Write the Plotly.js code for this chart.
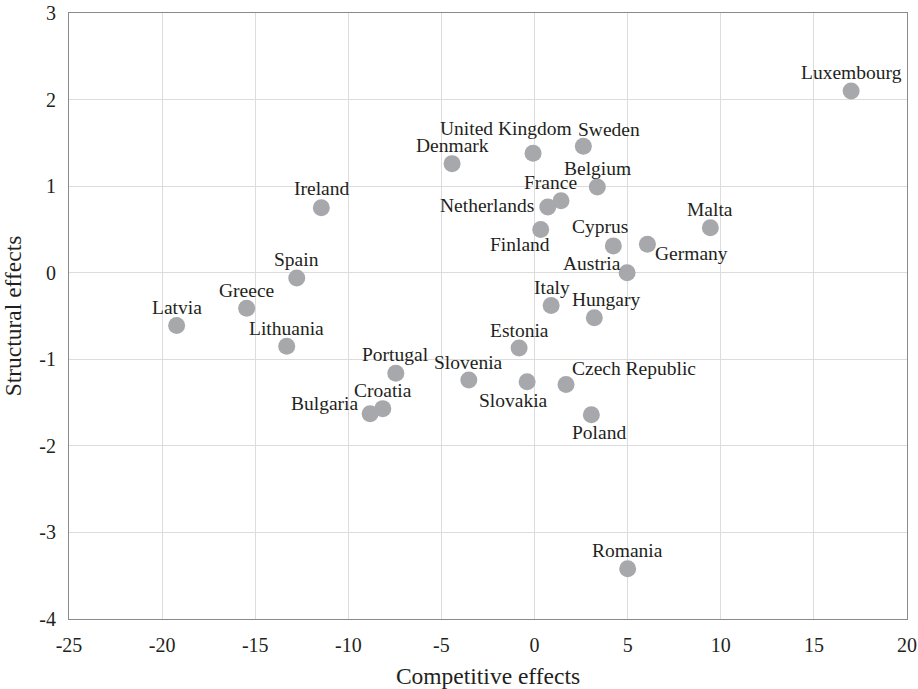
<!DOCTYPE html>
<html>
<head>
<meta charset="utf-8">
<script src="https://cdn.plot.ly/plotly-3.0.1.min.js"></script>
<style>
  html, body { margin: 0; padding: 0; background: #fff; overflow: hidden; }
  #chart { width: 918px; height: 689px; }
</style>
</head>
<body>
<div id="chart"></div>
<script>
// EU member states: competitive vs structural effects
const countries = [
  "Luxembourg", "Malta", "Germany", "Cyprus", "Austria", "Belgium", "Sweden",
  "United Kingdom", "Denmark", "France", "Netherlands", "Finland", "Italy",
  "Hungary", "Estonia", "Portugal", "Slovenia", "Slovakia", "Czech Republic",
  "Poland", "Croatia", "Bulgaria", "Romania", "Ireland", "Spain", "Greece",
  "Latvia", "Lithuania"
];
const competitive = [
  17.0, 9.44, 6.06, 4.23, 4.97, 3.37, 2.62,
  -0.08, -4.43, 1.42, 0.71, 0.33, 0.89,
  3.21, -0.83, -7.45, -3.53, -0.40, 1.69,
  3.05, -8.15, -8.83, 5.0, -11.45, -12.77, -15.46,
  -19.22, -13.31
];
const structural = [
  2.10, 0.52, 0.33, 0.31, 0.00, 0.99, 1.46,
  1.38, 1.26, 0.83, 0.76, 0.50, -0.38,
  -0.52, -0.87, -1.16, -1.24, -1.26, -1.29,
  -1.64, -1.57, -1.63, -3.42, 0.75, -0.06, -0.41,
  -0.61, -0.85
];

const xTicks = [-25, -20, -15, -10, -5, 0, 5, 10, 15, 20];
const yTicks = [-4, -3, -2, -1, 0, 1, 2, 3];

// Label placement around each marker, in pixels: [right, down]
const labelShift = {
  "Luxembourg": [0, -18], "Malta": [0, -18], "Germany": [44, 9],
  "Cyprus": [-13, -19], "Austria": [-35, -9], "Belgium": [0, -19],
  "Sweden": [26, -17], "United Kingdom": [-27, -25], "Denmark": [0, -18],
  "France": [-11, -18], "Netherlands": [-61, -1], "Finland": [-21, 15],
  "Italy": [1, -18], "Hungary": [12, -18], "Estonia": [0, -18],
  "Portugal": [0, -19], "Slovenia": [0, -18], "Slovakia": [-14, 19],
  "Czech Republic": [68, -16], "Poland": [8, 18], "Croatia": [0, -18],
  "Bulgaria": [-46, -10], "Romania": [0, -18], "Ireland": [0, -19],
  "Spain": [0, -18], "Greece": [0, -18], "Latvia": [0, -18],
  "Lithuania": [0, -18]
};

const serif = "Liberation Serif";
const ink = "#231f20";

const trace = {
  type: "scatter",
  mode: "markers",
  x: competitive,
  y: structural,
  text: countries,
  hoverinfo: "text+x+y",
  marker: { size: 17, color: "#a7a8ab", line: { width: 0 } }
};

const annotations = countries.map((name, i) => ({
  x: competitive[i],
  y: structural[i],
  xref: "x",
  yref: "y",
  text: name,
  showarrow: false,
  xanchor: "center",
  yanchor: "middle",
  xshift: labelShift[name][0],
  yshift: -labelShift[name][1],
  font: { family: serif, size: 19.5, color: ink }
}));

const axisCommon = {
  showline: true,
  mirror: true,
  linecolor: "#8a8a8a",
  linewidth: 1,
  showgrid: true,
  gridcolor: "#dcdcdc",
  gridwidth: 1,
  zeroline: false,
  ticks: "",
  tickfont: { family: serif, size: 20, color: ink }
};

const layout = {
  width: 918,
  height: 689,
  margin: { l: 69, r: 11, t: 13, b: 70 },
  paper_bgcolor: "#ffffff",
  plot_bgcolor: "#ffffff",
  showlegend: false,
  font: { family: serif, color: ink },
  xaxis: Object.assign({}, axisCommon, {
    range: [-25, 20],
    tickvals: xTicks,
    ticktext: xTicks.map(String),
    ticklabelstandoff: 8,
    title: { text: "Competitive effects", font: { family: serif, size: 23.5, color: ink }, standoff: 14 }
  }),
  yaxis: Object.assign({}, axisCommon, {
    range: [-4, 3],
    tickvals: yTicks,
    ticktext: yTicks.map(String),
    ticklabelstandoff: 8,
    title: { text: "Structural effects", font: { family: serif, size: 23.5, color: ink }, standoff: 12 }
  }),
  annotations: annotations
};

Plotly.newPlot("chart", [trace], layout, { displayModeBar: false, staticPlot: true });
</script>
</body>
</html>
